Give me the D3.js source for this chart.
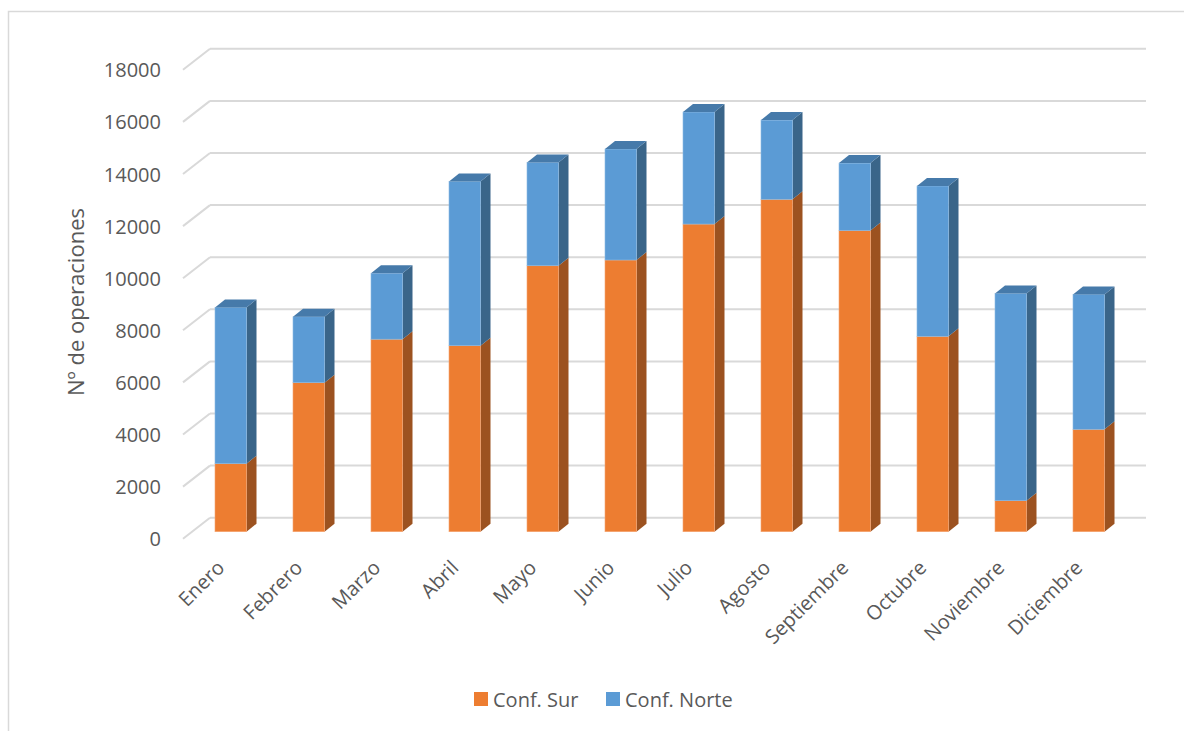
<!DOCTYPE html>
<html>
<head>
<meta charset="utf-8">
<script src="https://cdn.jsdelivr.net/npm/d3@7"></script>
<style>
  html, body { margin: 0; padding: 0; background: #ffffff; }
  svg { display: block; font-family: "Open Sans", Lato, sans-serif; }
</style>
</head>
<body>
<svg id="chart" width="1184" height="731"></svg>
<script>
// ---- Data ----
const months = ["Enero", "Febrero", "Marzo", "Abril", "Mayo", "Junio", "Julio", "Agosto", "Septiembre", "Octubre", "Noviembre", "Diciembre"];
const confSur = [2610, 5720, 7390, 7140, 10210, 10430, 11810, 12760, 11560, 7500, 1190, 3930];
const confNorte = [6000, 2530, 2530, 6300, 3960, 4260, 4300, 3040, 2590, 5770, 7950, 5180];
const yTicks = [0, 2000, 4000, 6000, 8000, 10000, 12000, 14000, 16000, 18000];
const seriesNames = ["Conf. Sur", "Conf. Norte"];
const yTitle = "Nº de operaciones";

// ---- Styles ----
const colors = {
  sur: { front: "#ED7D31", side: "#9C5220", top: "#B9612A", edge: "#F5A672" },
  norte: { front: "#5B9BD5", side: "#3A6589", top: "#467AAA", edge: "#8DBBE4" }
};
const textColor = "#595959";
const gridColor = "#D9D9D9";

const svg = d3.select("#chart");

// outer border
svg.append("rect").attr("x", 8.5).attr("y", 11.5).attr("width", 1200).attr("height", 740)
  .attr("fill", "none").attr("stroke", gridColor).attr("stroke-width", 1.5);

// ---- Scales (back wall coordinates) ----
const y = d3.scaleLinear().domain([0, 18000]).range([517.7, 48.8]);
const x = d3.scaleBand().domain(months).range([210, 1146]);

// oblique depth: floor depth vector from front to back
const floorDX = 27, floorDY = -21;
// bar placement
const barOffsetX = 5, barFrontDY = 14;
const barW = 31.5, barDepthX = 10, barDepthY = -8;

// ---- Grid lines ----
const grid = svg.append("g");
yTicks.forEach(v => {
  const yy = y(v);
  grid.append("line").attr("x1", x.range()[0]).attr("x2", x.range()[1])
    .attr("y1", yy).attr("y2", yy).attr("stroke", gridColor).attr("stroke-width", 2);
  grid.append("line").attr("x1", x.range()[0] - floorDX).attr("y1", yy - floorDY)
    .attr("x2", x.range()[0]).attr("y2", yy).attr("stroke", gridColor).attr("stroke-width", 2);
});

// ---- Y tick labels ----
svg.append("g").selectAll("text").data(yTicks).join("text")
  .attr("x", 161).attr("y", d => y(d) - floorDY)
  .attr("text-anchor", "end").attr("dominant-baseline", "central")
  .attr("fill", textColor).style("font-size", "20px")
  .text(d => d);

// ---- Y title ----
svg.append("text")
  .attr("transform", "translate(75,302) rotate(-90)")
  .attr("text-anchor", "middle").attr("dominant-baseline", "central")
  .attr("fill", textColor).style("font-size", "22px")
  .text(yTitle);

// ---- Bars ----
const data = months.map((m, i) => ({ m, sur: confSur[i], norte: confNorte[i] }));
const stack = d3.stack().keys(["sur", "norte"])(data);

const bars = svg.append("g");
data.forEach((d, i) => {
  const fl = x(d.m) + barOffsetX;
  const segs = [
    { key: "sur", v0: stack[0][i][0], v1: stack[0][i][1] },
    { key: "norte", v0: stack[1][i][0], v1: stack[1][i][1] }
  ];
  const g = bars.append("g");
  segs.forEach((s, si) => {
    const c = colors[s.key];
    const yTop = y(s.v1) + barFrontDY;
    const yBot = y(s.v0) + barFrontDY;
    // side face
    g.append("polygon")
      .attr("points", [[fl + barW, yTop], [fl + barW + barDepthX, yTop + barDepthY],
        [fl + barW + barDepthX, yBot + barDepthY], [fl + barW, yBot]].map(p => p.join(",")).join(" "))
      .attr("fill", c.side);
    // front face
    g.append("rect").attr("x", fl).attr("y", yTop).attr("width", barW).attr("height", yBot - yTop)
      .attr("fill", c.front).attr("stroke", c.edge).attr("stroke-width", 0.6);
    // top face (only for top segment)
    if (si === segs.length - 1) {
      g.append("polygon")
        .attr("points", [[fl, yTop], [fl + barW, yTop], [fl + barW + barDepthX, yTop + barDepthY],
          [fl + barDepthX, yTop + barDepthY]].map(p => p.join(",")).join(" "))
        .attr("fill", c.top);
    }
  });
  d.frontCenter = fl + barW / 2;
});

// ---- Month labels ----
svg.append("g").selectAll("text").data(data).join("text")
  .attr("transform", d => `translate(${d.frontCenter - 5},569) rotate(-45)`)
  .attr("text-anchor", "end")
  .attr("fill", textColor).style("font-size", "20px")
  .text(d => d.m);

// ---- Legend ----
const legendItems = [
  { name: seriesNames[0], color: colors.sur.front, x: 474 },
  { name: seriesNames[1], color: colors.norte.front, x: 606 }
];
const lg = svg.append("g");
legendItems.forEach(it => {
  lg.append("rect").attr("x", it.x).attr("y", 692).attr("width", 14).attr("height", 14).attr("fill", it.color);
  lg.append("text").attr("x", it.x + 19).attr("y", 699).attr("dominant-baseline", "central")
    .attr("fill", textColor).style("font-size", "20px").text(it.name);
});
</script>
</body>
</html>
